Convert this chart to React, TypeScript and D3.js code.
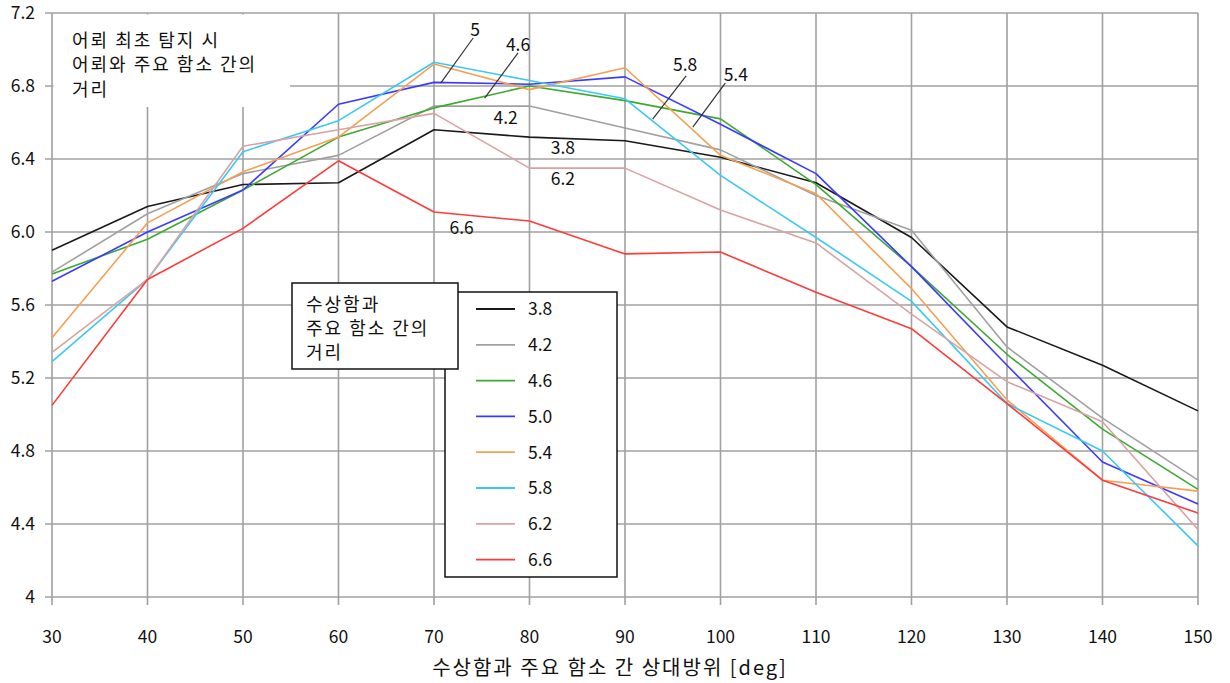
import React from "react";
import * as d3 from "d3";

const angles = [30, 40, 50, 60, 70, 80, 90, 100, 110, 120, 130, 140, 150];
const seriesNames = ["3.8", "4.2", "4.6", "5.0", "5.4", "5.8", "6.2", "6.6"];
const seriesColors = ["#1a1a1a", "#a0a0a0", "#3caa2e", "#3a3aff", "#f4a055", "#3cc8f5", "#d9a3a3", "#ff3a3a"];

const s38 = [5.90, 6.14, 6.26, 6.27, 6.56, 6.52, 6.50, 6.41, 6.27, 5.97, 5.48, 5.27, 5.02];
const s42 = [5.78, 6.10, 6.32, 6.42, 6.69, 6.69, 6.57, 6.45, 6.20, 6.01, 5.37, 4.98, 4.64];
const s46 = [5.77, 5.96, 6.23, 6.52, 6.68, 6.80, 6.72, 6.62, 6.26, 5.81, 5.33, 4.92, 4.59];
const s50 = [5.73, 6.00, 6.23, 6.70, 6.82, 6.81, 6.85, 6.59, 6.32, 5.81, 5.27, 4.74, 4.51];
const s54 = [5.42, 6.05, 6.33, 6.52, 6.92, 6.78, 6.90, 6.42, 6.21, 5.69, 5.08, 4.64, 4.58];
const s58 = [5.29, 5.74, 6.44, 6.61, 6.93, 6.83, 6.73, 6.31, 5.97, 5.62, 5.06, 4.80, 4.28];
const s62 = [5.34, 5.74, 6.47, 6.56, 6.65, 6.35, 6.35, 6.12, 5.94, 5.55, 5.18, 4.96, 4.37];
const s66 = [5.05, 5.74, 6.02, 6.39, 6.11, 6.06, 5.88, 5.89, 5.67, 5.47, 5.06, 4.64, 4.46];

const allSeries = [s38, s42, s46, s50, s54, s58, s62, s66];

const yTicks = [4, 4.4, 4.8, 5.2, 5.6, 6.0, 6.4, 6.8, 7.2];
const yTickLabels = ["4", "4.4", "4.8", "5.2", "5.6", "6.0", "6.4", "6.8", "7.2"];
const xTicks = [30, 40, 50, 60, 70, 80, 90, 100, 110, 120, 130, 140, 150];

// in-chart annotation labels (data coordinates)
const annoText = ["5", "4.6", "4.2", "3.8", "6.2", "6.6", "5.8", "5.4"];
const annoX = [74.3, 78.8, 77.5, 83.5, 83.5, 72.9, 96.3, 101.6];
const annoY = [7.107, 7.025, 6.625, 6.46, 6.29, 6.022, 6.915, 6.86];
const leaderFromX = [70.7, 75.3, null, null, null, null, 92.9, 97.1];
const leaderFromY = [6.816, 6.734, null, null, null, null, 6.619, 6.575];
const leaderToX = [74.1, 78.8, null, null, null, null, 96.4, 100.5];
const leaderToY = [7.063, 6.981, null, null, null, null, 6.855, 6.816];

const titleLines = ["어뢰 최초 탐지 시", "어뢰와 주요 함소 간의", "거리"];
const legendTitleLines = ["수상함과", "주요 함소 간의", "거리"];
const xTitle = "수상함과 주요 함소 간 상대방위 [deg]";

const W = 1230;
const H = 683;
const FONT = "'Noto Sans CJK KR', 'Noto Sans', sans-serif";

export default function App() {
  const x = d3.scaleLinear().domain([30, 150]).range([52, 1198]);
  const y = d3.scaleLinear().domain([4, 7.2]).range([597, 13]);
  const line = d3
    .line<number>()
    .x((_, i) => x(angles[i]))
    .y((d) => y(d));

  const gridColor = "#a0a0a0";
  const numSize = 17.5;

  return (
    <svg
      width={W}
      height={H}
      style={{ position: "absolute", left: 0, top: 0, background: "#fff" }}
      fontFamily={FONT}
    >
      <rect x={0} y={0} width={W} height={H} fill="#fff" />
      {/* grid */}
      {yTicks.map((t) => (
        <line key={"gy" + t} x1={x(30) - 7} x2={x(150)} y1={y(t)} y2={y(t)} stroke={gridColor} strokeWidth={1.6} />
      ))}
      {xTicks.map((t) => (
        <line key={"gx" + t} x1={x(t)} x2={x(t)} y1={y(7.2)} y2={y(4) + 8} stroke={gridColor} strokeWidth={1.6} />
      ))}
      {/* top-left note box (white) */}
      <rect x={x(30) + 1.5} y={y(7.2) + 1.5} width={290 - x(30) - 1.5} height={107 - y(7.2) - 1.5} fill="#fff" />
      {titleLines.map((t, i) => (
        <text key={"tl" + i} x={72} y={46.5 + i * 24.5} fontSize={18} letterSpacing={2} fill="#111">
          {t}
        </text>
      ))}
      {/* tick labels */}
      {yTicks.map((t, i) => (
        <text key={"yl" + t} x={35} y={y(t) + 6.3} fontSize={numSize} textAnchor="end" fill="#111">
          {yTickLabels[i]}
        </text>
      ))}
      {xTicks.map((t) => (
        <text key={"xl" + t} x={x(t)} y={642.5} fontSize={numSize} textAnchor="middle" fill="#111">
          {t}
        </text>
      ))}
      <text x={610} y={675} fontSize={20} letterSpacing={2} textAnchor="middle" fill="#111">
        {xTitle}
      </text>
      {/* series */}
      {allSeries.map((s, i) => (
        <path key={"s" + i} d={line(s) || ""} fill="none" stroke={seriesColors[i]} strokeWidth={1.6} strokeLinejoin="round" />
      ))}
      {/* annotations */}
      {annoText.map((t, i) => (
        <g key={"an" + i}>
          {leaderFromX[i] !== null && (
            <line
              x1={x(leaderFromX[i] as number)}
              y1={y(leaderFromY[i] as number)}
              x2={x(leaderToX[i] as number)}
              y2={y(leaderToY[i] as number)}
              stroke="#333"
              strokeWidth={1.2}
            />
          )}
          <text x={x(annoX[i])} y={y(annoY[i]) + 6.3} fontSize={numSize} textAnchor="middle" fill="#111">
            {t}
          </text>
        </g>
      ))}
      {/* legend */}
      <rect x={445} y={292} width={172} height={285} fill="#fff" stroke="#111" strokeWidth={1.5} />
      {seriesNames.map((n, i) => (
        <g key={"lg" + i}>
          <line x1={476} x2={515} y1={309 + i * 35.8} y2={309 + i * 35.8} stroke={seriesColors[i]} strokeWidth={1.8} />
          <text x={528} y={309 + i * 35.8 + 6.3} fontSize={numSize} fill="#111">
            {n}
          </text>
        </g>
      ))}
      <rect x={292} y={283} width={166} height={86} fill="#fff" stroke="#111" strokeWidth={1.5} />
      {legendTitleLines.map((t, i) => (
        <text key={"lt" + i} x={306} y={310.5 + i * 24} fontSize={18} letterSpacing={2} fill="#111">
          {t}
        </text>
      ))}
    </svg>
  );
}
